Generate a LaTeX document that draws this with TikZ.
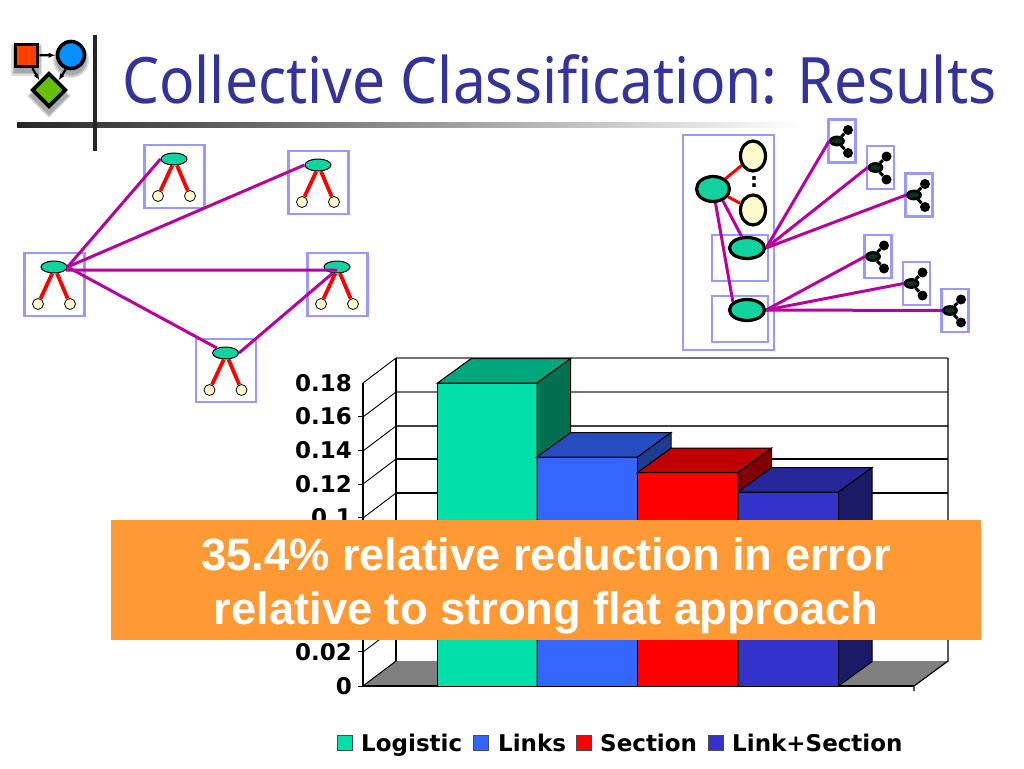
\documentclass[tikz,border=0pt]{standalone}
\usepackage{fontspec}
\setmainfont{Noto Sans}[FakeStretch=0.917]
\newfontfamily\chartfont{DejaVu Sans}
\newfontfamily\notefont{Liberation Sans}
\usetikzlibrary{arrows.meta,positioning,shapes.geometric}
\definecolor{titleblue}{HTML}{333399}
\definecolor{cellblue}{HTML}{9999FF}
\definecolor{linkpurple}{HTML}{B8009C}
\definecolor{nodegreen}{HTML}{12D2A0}
\definecolor{nodeyellow}{HTML}{FFFBCC}
\definecolor{notebg}{HTML}{FF9933}
\definecolor{greenA}{HTML}{00E0A8}
\definecolor{greenB}{HTML}{00A67C}
\definecolor{greenC}{HTML}{007050}
\definecolor{blueA}{HTML}{3366FF}
\definecolor{blueB}{HTML}{264DBF}
\definecolor{blueC}{HTML}{1F3D8F}
\definecolor{redA}{HTML}{FF0000}
\definecolor{redB}{HTML}{BF0000}
\definecolor{redC}{HTML}{800000}
\definecolor{navyA}{HTML}{3333CC}
\definecolor{navyB}{HTML}{262699}
\definecolor{navyC}{HTML}{1A1A66}
\definecolor{logored}{HTML}{FF4000}
\definecolor{logoblue}{HTML}{0A8FFF}
\definecolor{logogreen}{HTML}{66C000}

\begin{document}
\begin{tikzpicture}
[x=1pt,y=-1pt,
cell/.style={draw=cellblue,line width=2.4pt,minimum width=#1,inner sep=0pt},
item/.style={ellipse,draw,fill=nodegreen,inner sep=0pt,line width=1pt,minimum width=26pt,minimum height=12pt},
leaf/.style={circle,draw,fill=nodeyellow,inner sep=0pt,line width=0.8pt,minimum size=11pt},
bigitem/.style={ellipse,draw,fill=nodegreen,inner sep=0pt,line width=3.2pt,minimum width=#1,minimum height=21pt},
bigleaf/.style={ellipse,draw,fill=nodeyellow,inner sep=0pt,line width=3.2pt,minimum width=25pt,minimum height=30pt},
hub/.style={ellipse,draw,fill=nodegreen!25!black,inner sep=0pt,line width=2.8pt,minimum width=13pt,minimum height=8pt},
tip/.style={circle,fill=black,inner sep=0pt,minimum size=10pt},
link/.style={draw=linkpurple,line width=3pt},
cite/.style={draw=red,line width=3.8pt},
tick label/.style={font=\chartfont\bfseries\fontsize{23}{23}\selectfont,anchor=east,inner sep=0pt},
legend label/.style={font=\chartfont\bfseries\fontsize{23}{23}\selectfont,anchor=base west,inner sep=0pt},
swatch/.style={draw=black!70,line width=0.8pt,minimum size=15pt,inner sep=0pt},
logo/.style={draw=black,line width=3.6pt,inner sep=0pt},
blur/.style={fill=black,fill opacity=0.13,inner sep=0pt}]
\useasboundingbox (0,0) rectangle (1024,768);

\fill[white] (0,0) rectangle (1024,768);

\shade[left color=black!85,right color=white] (17,122) rectangle (800,127);
\draw[black!85,line width=3.4pt] (95,35) -- (95,151);
\node (title) at (122,103)[anchor=base west,inner sep=0pt,text=titleblue,font=\fontsize{64}{64}\selectfont] {Collective Classification: Results};

\foreach \g in {0,3,6}{
\node at (26.5,60)[blur,minimum size=25pt+\g pt] {};
\node at (71,60)[blur,circle,minimum size=30pt+\g pt] {};
\node at (49,96)[blur,diamond,minimum size=38pt+\g pt] {};
}
\node (logosq) at (26.5,55.5)[logo,fill=logored,minimum size=22pt] {};
\node (logoci) at (71,55)[logo,circle,fill=logoblue,minimum size=27pt] {};
\node (logodi) at (49,90)[logo,diamond,fill=logogreen,minimum size=34pt] {};
\draw[-{Latex[length=7pt]},line width=2.2pt] (logosq) -- (logoci);
\draw[-{Latex[length=7pt]},line width=2.2pt] (logosq.-65) -- (logodi.135);
\draw[-{Latex[length=7pt]},line width=2.2pt] (logoci.-110) -- (logodi.45);

\foreach \n/\x/\y in {a/174/159,b/318/165,c/54/267,d/337/267,e/225.5/353}{
\node (box\n) at (\x+0.5,\y+17.5)[cell=60pt,minimum height=63pt] {};
\node (ell\n) at (\x,\y)[item] {};
\node (lfa\n) at (\x-16,\y+37)[leaf] {};
\node (lfb\n) at (\x+16,\y+37)[leaf] {};
\draw[cite] (ell\n.255) -- (lfa\n);
\draw[cite] (ell\n.295) -- (lfb\n);
}

\draw[link] (ellc.east) -- (ella.west);
\draw[link] (ellc.east) -- (ellb.west);
\draw[link] (ellc.-15) -- ([yshift=-3pt]elld.center);
\draw[link] (ellc.east) -- (elle.150);
\draw[link] (elle.east) -- (elld.235);

\node (group) at (728.5,242.5)[cell=91pt,minimum height=215pt] {};
\node (grpb) at (740,258)[cell=56pt,minimum height=46pt] {};
\node (grpc) at (740,319)[cell=56pt,minimum height=46pt] {};
\node (main) at (713,189)[bigitem=33pt,minimum height=25pt] {};
\node (other) at (747,248)[bigitem=35pt] {};
\node (third) at (747,310)[bigitem=35pt] {};
\node (yela) at (753,156)[bigleaf] {};
\node (yelb) at (753,210)[bigleaf] {};
\node (dots) at (754,182)[inner sep=0pt,font=\chartfont\bfseries\fontsize{20}{20}\selectfont] {:};
\draw[cite,line width=3pt] (main) -- (yela);
\draw[cite,line width=3pt] (main) -- (yelb);
\draw[link] (main.-50) -- (other.115);
\draw[link] (main.-80) -- (third.150);

\foreach \n/\x/\y/\from in {1/842/141/other,2/880.5/167.5/other,3/919/195/other,4/878/256.5/third,5/916.5/283.5/third,6/955/310.5/third}{
\node (sbox\n) at (\x,\y)[cell=27pt,minimum height=43pt] {};
\node (shub\n) at (\x-5,\y)[hub] {};
\node (stpa\n) at (\x+6,\y-11)[tip] {};
\node (stpb\n) at (\x+6,\y+12)[tip] {};
\draw[line width=3pt] (shub\n) -- (stpa\n);
\draw[line width=3pt] (shub\n) -- (stpb\n);
\draw[link] (\from.east) -- (shub\n.west);
}

\fill[black!50] (363,686) -- (396,661) -- (948,661) -- (914,686) -- cycle;
\foreach \y/\c in {358/black!55,392/black!55,426/black!75,459/black,493/black,526/black,560/black,594/black,627/black}{
\draw[\c,line width=1.2pt] (396,\y) -- (948,\y);
\draw[line width=0.9pt] (396,\y) -- (363,\y+25);
}
\draw[line width=1.2pt] (396,358) -- (396,661);
\draw[line width=1.2pt] (948,358) -- (948,661) -- (914,686) -- (914,691);
\draw[line width=1.2pt] (363,383) -- (363,686) -- (914,686);
\draw[line width=1pt] (396,661) -- (363,686);
\foreach \y in {416.6,450.3,484,517.6,651.9,686}{
\draw[line width=0.9pt] (358,\y) -- (363,\y);
}

\foreach \xa/\xb/\yt/\cf in {437.5/537/383/green,537/637.5/457/blue,637.5/738/472.5/red,738/838.5/492/navy}{
\draw[line width=1pt,fill=\cf A] (\xa,\yt) rectangle (\xb,686);
\draw[line width=1pt,fill=\cf B] (\xa,\yt) -- (\xa+33.7,\yt-24.5) -- (\xb+33.7,\yt-24.5) -- (\xb,\yt) -- cycle;
\draw[line width=1pt,fill=\cf C] (\xb,\yt) -- (\xb+33.7,\yt-24.5) -- (\xb+33.7,661.5) -- (\xb,686) -- cycle;
}

\foreach \n/\y/\t in {a/383/0.18,b/416.6/0.16,c/450.3/0.14,d/484/0.12,e/517.6/0.1,f/651.9/0.02,g/686/0}{
\node (tick\n) at (352,\y)[tick label] {\t};
}

\node (note) at (546,580)[fill=notebg,minimum width=870pt,minimum height=120pt,inner sep=0pt] {};
\node (notetext) at (546,586)[inner sep=0pt,text=white,align=center,font=\notefont\bfseries\fontsize{45.3}{54}\selectfont] {35.4\% relative reduction in error\\relative to strong flat approach};

\node (swa) at (345,743)[swatch,fill=greenA] {};
\node (swb) at (480.5,743)[swatch,fill=blueA] {};
\node (swc) at (584,743)[swatch,fill=redA] {};
\node (swd) at (716,743)[swatch,fill=navyA] {};
\node (lega) at (361,751)[legend label] {Logistic};
\node (legb) at (498,751)[legend label] {Links};
\node (legc) at (600,751)[legend label] {Section};
\node (legd) at (732,751)[legend label] {Link+Section};

\end{tikzpicture}
\end{document}
